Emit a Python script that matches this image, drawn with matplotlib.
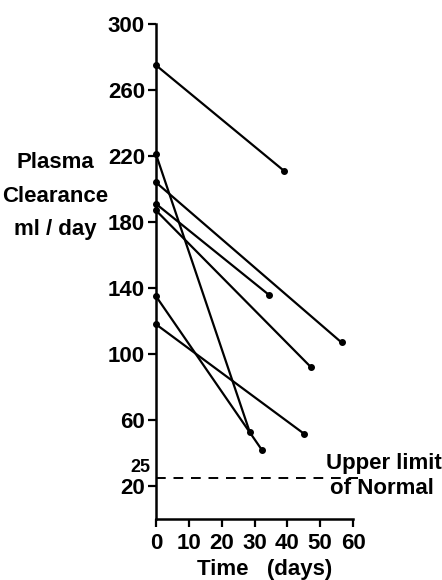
import matplotlib
matplotlib.use("Agg")
import matplotlib.pyplot as plt

plt.rcParams['font.family'] = ['Liberation Sans', 'DejaVu Sans']

# Data
start_days = [0, 0, 0, 0, 0, 0, 0]
start_vals = [275, 221, 204, 191, 187, 135, 118]
end_days = [39, 28.5, 56.5, 34.3, 47.2, 32.2, 45.2]
end_vals = [211, 53, 107, 136, 92, 42, 51.5]
upper_normal = 25
xticks = [0, 10, 20, 30, 40, 50, 60]
yticks = [20, 60, 100, 140, 180, 220, 260, 300]

fig = plt.figure(figsize=(4.42, 5.80), dpi=100)
ax = fig.add_axes([156/442, 1-519/580, (353-156)/442, (519-24)/580])

for x0, y0, x1, y1 in zip(start_days, start_vals, end_days, end_vals):
    ax.plot([x0, x1], [y0, y1], color='black', lw=1.6, marker='o', ms=4,
            solid_capstyle='round', clip_on=False, zorder=3)

ax.plot([0, 61.5], [upper_normal, upper_normal], color='black', lw=1.4,
        linestyle=(0, (5, 4)), clip_on=False)

ax.set_xlim(0, 60)
ax.set_ylim(0, 300)
ax.set_xticks(xticks)
ax.set_yticks(yticks)
ax.spines['top'].set_visible(False)
ax.spines['right'].set_visible(False)
ax.spines['left'].set_linewidth(1.8)
ax.spines['bottom'].set_linewidth(1.8)
ax.tick_params(axis='both', direction='out', length=6, width=1.6,
               labelsize=16, pad=2)
ax.tick_params(axis='x', pad=4)
for lab in ax.get_xticklabels() + ax.get_yticklabels():
    lab.set_fontweight('bold')

ax.text(-1.8, upper_normal + 1, '25', ha='right', va='bottom', fontsize=13,
        fontweight='bold', transform=ax.transData)

fig.text(384/442, 1-463/580, 'Upper limit', ha='center', va='center',
         fontsize=16, fontweight='bold')
fig.text(382/442, 1-489/580, 'of Normal', ha='center', va='center',
         fontsize=16, fontweight='bold')

fig.text(55/442, 1-196/580, 'Plasma\nClearance\nml / day', ha='center',
         va='center', fontsize=16, fontweight='bold', linespacing=1.75)

fig.text(265/442, 1-569/580, 'Time   (days)', ha='center', va='center',
         fontsize=16, fontweight='bold')

fig.savefig('out.png', dpi=100)
